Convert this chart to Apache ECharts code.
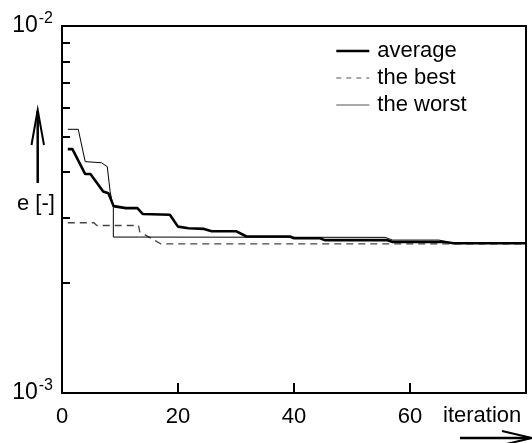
<!DOCTYPE html>
<html><head><meta charset="utf-8">
<script src="https://cdn.jsdelivr.net/npm/echarts@6/dist/echarts.min.js"></script>
<style>html,body{margin:0;padding:0;background:#fff}#c{width:532px;height:443px}</style>
</head><body><div id="c"></div>
<script>
// ---- data ----
const iterAverage = [1, 1.8, 4, 4.9, 7.1, 8, 8.9, 11, 13, 13.9, 18.6, 20, 21.8, 24.5, 25.8, 30, 31.8, 39.3, 40, 44.5, 45.3, 56, 57, 66, 67.5, 80];
const errAverage  = [4.62e-3, 4.62e-3, 3.95e-3, 3.95e-3, 3.54e-3, 3.5e-3, 3.23e-3, 3.19e-3, 3.19e-3, 3.075e-3, 3.06e-3, 2.84e-3, 2.81e-3, 2.80e-3, 2.76e-3, 2.76e-3, 2.67e-3, 2.67e-3, 2.64e-3, 2.64e-3, 2.61e-3, 2.61e-3, 2.58e-3, 2.58e-3, 2.56e-3, 2.56e-3];
const iterBest = [1, 5.5, 6, 13.2, 13.4, 17, 80];
const errBest  = [2.91e-3, 2.91e-3, 2.86e-3, 2.86e-3, 2.75e-3, 2.55e-3, 2.55e-3];
const iterWorst = [1, 2.8, 4, 6.8, 7.8, 8.3, 8.85, 8.85, 13.4, 55.7, 57, 65, 67.5, 80];
const errWorst  = [5.23e-3, 5.23e-3, 4.27e-3, 4.24e-3, 4.14e-3, 3.54e-3, 3.2e-3, 2.66e-3, 2.66e-3, 2.655e-3, 2.61e-3, 2.61e-3, 2.56e-3, 2.56e-3];
const seriesNames = ['average', 'the best', 'the worst'];
const xTicks = [0, 20, 40, 60];
const yLabels = {0.001: '-3', 0.01: '-2'};
const minorTickMultipliers = [2, 3, 4, 5, 6, 7, 8, 9];

const pairs = (xs, ys) => xs.map((x, i) => [x, ys[i]]);
const FONT = '"Liberation Sans", Arial, sans-serif';
const FS = 22;

const chart = echarts.init(document.getElementById('c'), null, {renderer: 'canvas'});
chart.setOption({
  animation: false,
  backgroundColor: '#fff',
  grid: {left: 62, right: 6, top: 26, bottom: 50, show: true, borderColor: '#000', borderWidth: 2, backgroundColor: 'transparent'},
  legend: {
    orient: 'vertical', left: 330, top: 35, itemWidth: 33, itemHeight: 14, itemGap: 5,
    data: [
      {name: seriesNames[0], lineStyle: {width: 2.6, color: '#000'}},
      {name: seriesNames[1], lineStyle: {width: 1.2, color: '#555', type: [5, 5]}},
      {name: seriesNames[2], lineStyle: {width: 1.2, color: '#555'}}
    ],
    itemStyle: {opacity: 0},
    textStyle: {fontFamily: FONT, fontSize: FS, color: '#000', lineHeight: 20, padding: [0, 0, 0, 3]}
  },
  xAxis: {
    type: 'value', min: 0, max: 80, interval: 20,
    axisLine: {show: false},
    splitLine: {show: false},
    axisTick: {show: true, inside: true, length: 10, lineStyle: {color: '#000', width: 2}},
    axisLabel: {
      fontFamily: FONT, fontSize: FS, color: '#000', margin: 13,
      formatter: v => xTicks.includes(v) ? String(v) : ''
    }
  },
  yAxis: [{
    type: 'log', logBase: 10, min: 0.001, max: 0.01,
    axisLine: {show: false}, splitLine: {show: false}, axisTick: {show: false},
    axisLabel: {
      margin: 9, fontFamily: FONT, color: '#000',
      formatter: v => {
        const k = Object.keys(yLabels).find(key => Math.abs(+key - v) < 1e-9);
        return k ? '{b|10}{s|' + yLabels[k] + '}' : '';
      },
      rich: {
        b: {fontFamily: FONT, fontSize: FS + 1, color: '#000', verticalAlign: 'bottom', lineHeight: 22},
        s: {fontFamily: FONT, fontSize: 16, color: '#000', verticalAlign: 'bottom', lineHeight: 16, padding: [0, 0, 10, 1]}
      }
    }
  }, {
    type: 'value', min: 0, max: 1, position: 'left',
    axisLine: {show: false}, splitLine: {show: false}, axisLabel: {show: false},
    axisTick: {show: true, inside: true, length: 8, lineStyle: {color: '#000', width: 2},
      customValues: minorTickMultipliers.map(m => Math.log10(m))}
  }],
  series: [{
    name: seriesNames[0], type: 'line', data: pairs(iterAverage, errAverage),
    showSymbol: false, symbol: 'none', lineStyle: {color: '#000', width: 2.6}, itemStyle: {color: '#000'}, z: 4
  }, {
    name: seriesNames[1], type: 'line', data: pairs(iterBest, errBest),
    showSymbol: false, symbol: 'none', lineStyle: {color: '#444', width: 1.3, type: [7, 5]}, itemStyle: {color: '#444'}, z: 2
  }, {
    name: seriesNames[2], type: 'line', data: pairs(iterWorst, errWorst),
    showSymbol: false, symbol: 'none', lineStyle: {color: '#000', width: 1}, itemStyle: {color: '#000'}, z: 3
  }],
  graphic: [
    {type: 'text', left: 17, top: 193, style: {text: 'e [-]', font: FS + 'px ' + FONT, fill: '#000'}},
    {type: 'polyline', shape: {points: [[37.7, 183], [37.7, 111]]}, style: {stroke: '#000', lineWidth: 2.5, fill: null}},
    {type: 'polyline', shape: {points: [[31.5, 145], [37.7, 110], [44, 145]]}, style: {stroke: '#000', lineWidth: 2, fill: null}},
    {type: 'text', left: 443, top: 405, style: {text: 'iteration', font: FS + 'px ' + FONT, fill: '#000'}},
    {type: 'polyline', shape: {points: [[460, 438], [530, 438]]}, style: {stroke: '#000', lineWidth: 2.5, fill: null}},
    {type: 'polyline', shape: {points: [[502, 431], [532, 438], [502, 445]]}, style: {stroke: '#000', lineWidth: 2, fill: null}}
  ]
});
</script></body></html>
